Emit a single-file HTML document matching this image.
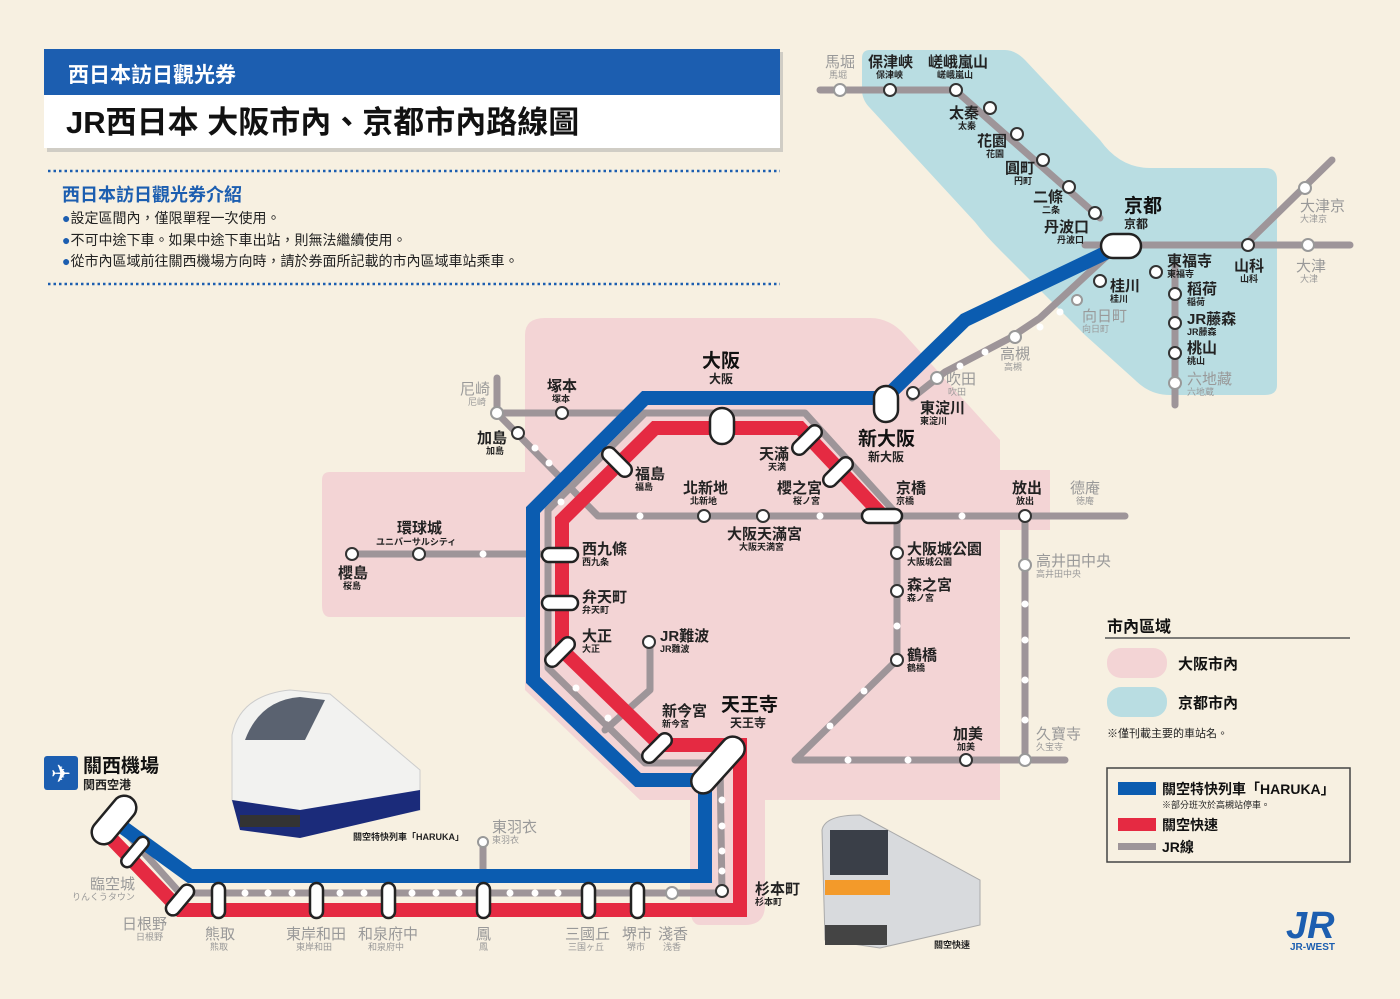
<!DOCTYPE html>
<html><head><meta charset="utf-8"><style>
html,body{margin:0;padding:0;background:#f7f0e1;}
svg{display:block;font-family:"Liberation Sans","Noto Sans CJK TC",sans-serif;}
.b{font-size:15px;fill:#222;font-weight:bold}
.s{font-size:9px;fill:#222;font-weight:bold}
.g{font-size:15px;fill:#999}
.gs{font-size:9px;fill:#999}
.bb{font-size:19px;fill:#111;font-weight:bold}
</style></head><body>
<svg width="1400" height="999" viewBox="0 0 1400 999" xmlns="http://www.w3.org/2000/svg">
<rect width="1400" height="999" fill="#f7f0e1"/>
<!-- regions -->
<path d="M545,318 L870,318 Q890,318 905,335 L1000,440 L1000,470 L1050,470 L1050,530 L1000,530 L1000,800 L765,800 L765,905 Q765,925 745,925 L700,925 Q690,925 690,905 L690,800 L640,800 L525,690 L525,617 L330,617 Q322,617 322,605 L322,480 Q322,472 330,472 L525,472 L525,335 Q525,318 545,318 Z" fill="#f3d4d5"/>
<path d="M870,50 L1005,50 Q1015,50 1025,60 L1100,140 Q1120,168 1150,168 L1265,168 Q1277,168 1277,180 L1277,385 Q1277,395 1265,395 L1170,395 Q1150,395 1135,380 L1085,335 L1060,310 L1000,250 Q985,235 975,222 L870,108 Q862,100 862,90 L862,58 Q862,50 870,50 Z" fill="#b9dde2"/>
<!-- header -->
<rect x="47" y="52" width="736" height="100" fill="#aaa" opacity="0.5"/>
<rect x="44" y="49" width="736" height="46" fill="#1c5eb0"/>
<rect x="44" y="95" width="736" height="53" fill="#fff"/>
<text x="68" y="82" font-size="21" fill="#fff" font-weight="bold">西日本訪日觀光券</text>
<text x="66" y="133" font-size="31" fill="#111" font-weight="bold">JR西日本 大阪市內、京都市內路線圖</text>
<line x1="48" y1="171" x2="780" y2="171" stroke="#1c5eb0" stroke-width="2.5" stroke-dasharray="2.5 3"/>
<line x1="48" y1="284" x2="780" y2="284" stroke="#1c5eb0" stroke-width="2.5" stroke-dasharray="2.5 3"/>
<text x="62" y="201" font-size="18" fill="#1c5eb0" font-weight="bold">西日本訪日觀光券介紹</text>
<text x="62" y="223" font-size="14" fill="#222"><tspan fill="#1c5eb0">●</tspan>設定區間內，僅限單程一次使用。</text>
<text x="62" y="245" font-size="14" fill="#222"><tspan fill="#1c5eb0">●</tspan>不可中途下車。如果中途下車出站，則無法繼續使用。</text>
<text x="62" y="266" font-size="14" fill="#222"><tspan fill="#1c5eb0">●</tspan>從市內區域前往關西機場方向時，請於券面所記載的市內區域車站乘車。</text>

<!-- gray lines -->
<g fill="none" stroke="#9e9599" stroke-width="7" stroke-linejoin="round" stroke-linecap="round">
<path d="M820,90 L955,90 L1100,218"/>
<path d="M1085,245 L1350,245"/>
<path d="M1245,245 L1332,160"/>
<path d="M1175,265 L1175,405"/>
<path d="M1108,255 L1040,318 L1010,338 L945,372 L912,398"/>
<path d="M497,378 L497,413 L805,413 L893,510 L897,516 L897,660 L795,760 L1065,760"/>
<path d="M497,413 L598,516 L1125,516"/>
<path d="M352,554 L545,554"/>
<path d="M645,413 L548,510 L548,668 L645,763 L720,763 L722,893 L180,893 L120,826"/>
<path d="M1025,516 L1025,760"/>
<path d="M650,645 L650,690 L605,730"/>
<path d="M483,842 L483,893"/>
</g>
<!-- blue & red -->
<path d="M1122,245 L965,320 L885,398 L645,398 L533,510 L533,680 L638,780 L705,780 L705,876 L190,876 L110,818" fill="none" stroke="#0b5cb0" stroke-width="14" stroke-linejoin="miter"/>
<path d="M882,515 L800,428 L655,428 L562,520 L562,650 L660,745 L740,745 L740,910 L180,910 L105,832" fill="none" stroke="#e52a42" stroke-width="14" stroke-linejoin="miter"/>

<!-- small stations -->
<g fill="#fff" stroke="#333" stroke-width="2">
<circle cx="840" cy="90" r="6" stroke="#999"/><circle cx="890" cy="90" r="6"/><circle cx="956" cy="90" r="6"/>
<circle cx="990" cy="108" r="6"/><circle cx="1017" cy="134" r="6"/><circle cx="1043" cy="160" r="6"/><circle cx="1069" cy="187" r="6"/><circle cx="1095" cy="213" r="6"/>
<circle cx="1248" cy="245" r="6"/><circle cx="1305" cy="188" r="6" stroke="#999"/><circle cx="1308" cy="245" r="6" stroke="#999"/>
<circle cx="1156" cy="272" r="6"/><circle cx="1175" cy="294" r="6"/><circle cx="1175" cy="323" r="6"/><circle cx="1175" cy="353" r="6"/><circle cx="1175" cy="383" r="6" stroke="#999"/>
<circle cx="1100" cy="281" r="6"/><circle cx="1077" cy="300" r="5" stroke="#999"/><circle cx="1015" cy="337" r="6" stroke="#999"/><circle cx="937" cy="378" r="6" stroke="#999"/><circle cx="913" cy="393" r="6"/>
<circle cx="497" cy="413" r="6" stroke="#999"/><circle cx="562" cy="413" r="6"/><circle cx="518" cy="433" r="6"/>
<circle cx="704" cy="516" r="6"/><circle cx="763" cy="516" r="6"/><circle cx="897" cy="553" r="6"/><circle cx="897" cy="591" r="6"/><circle cx="897" cy="660" r="6"/>
<circle cx="1025" cy="516" r="6"/><circle cx="1025" cy="565" r="6" stroke="#999"/><circle cx="966" cy="760" r="6"/><circle cx="1025" cy="760" r="6" stroke="#999"/>
<circle cx="352" cy="554" r="6"/><circle cx="419" cy="554" r="6"/><circle cx="649" cy="642" r="6"/>
<circle cx="483" cy="842" r="5" stroke="#999"/><circle cx="672" cy="893" r="6" stroke="#999"/><circle cx="722" cy="891" r="6"/>
</g>
<g fill="#fff">
<circle cx="535" cy="448" r="3.5"/><circle cx="549" cy="463" r="3.5"/><circle cx="640" cy="516" r="3.5"/><circle cx="820" cy="516" r="3.5"/><circle cx="962" cy="516" r="3.5"/>
<circle cx="483" cy="554" r="3.5"/><circle cx="561" cy="502" r="3.5"/><circle cx="576" cy="688" r="3.5"/><circle cx="608" cy="718" r="3.5"/>
<circle cx="897" cy="626" r="3.5"/><circle cx="864" cy="691" r="3.5"/><circle cx="830" cy="726" r="3.5"/><circle cx="848" cy="760" r="3.5"/><circle cx="908" cy="760" r="3.5"/>
<circle cx="1025" cy="604" r="3.5"/><circle cx="1025" cy="640" r="3.5"/><circle cx="1025" cy="680" r="3.5"/><circle cx="1025" cy="720" r="3.5"/>
<circle cx="960" cy="366" r="3.5"/><circle cx="985" cy="352" r="3.5"/><circle cx="1040" cy="327" r="3.5"/><circle cx="1060" cy="312" r="3.5"/>
<circle cx="722" cy="800" r="3.5"/><circle cx="722" cy="826" r="3.5"/><circle cx="722" cy="851" r="3.5"/><circle cx="722" cy="871" r="3.5"/>
<circle cx="245" cy="893" r="3.5"/><circle cx="268" cy="893" r="3.5"/><circle cx="292" cy="893" r="3.5"/><circle cx="340" cy="893" r="3.5"/><circle cx="364" cy="893" r="3.5"/>
<circle cx="412" cy="893" r="3.5"/><circle cx="436" cy="893" r="3.5"/><circle cx="459" cy="893" r="3.5"/><circle cx="510" cy="893" r="3.5"/><circle cx="535" cy="893" r="3.5"/><circle cx="558" cy="893" r="3.5"/>
</g>
<!-- capsules -->
<g fill="#fff" stroke="#222" stroke-width="2.5">
<rect x="710" y="408" width="24" height="36" rx="12"/>
<rect x="874" y="386" width="24" height="36" rx="12"/>
<rect x="1101" y="234" width="40" height="24" rx="12"/>
<rect x="862" y="509" width="40" height="14" rx="7"/>
<rect x="542" y="548" width="36" height="14" rx="7"/>
<rect x="542" y="596" width="36" height="14" rx="7"/>
<rect x="-18" y="-7" width="36" height="14" rx="7" transform="translate(617,462) rotate(45)"/>
<rect x="-18" y="-7" width="36" height="14" rx="7" transform="translate(807,440) rotate(-45)"/>
<rect x="-18" y="-7" width="36" height="14" rx="7" transform="translate(838,472) rotate(-45)"/>
<rect x="-18" y="-7" width="36" height="14" rx="7" transform="translate(560,652) rotate(-45)"/>
<rect x="-18" y="-7" width="36" height="14" rx="7" transform="translate(657,748) rotate(-45)"/>
<rect x="-34" y="-12" width="68" height="24" rx="12" transform="translate(718,765) rotate(-48)"/>
<rect x="-28" y="-12" width="56" height="24" rx="12" transform="translate(114,820) rotate(-50)"/>
<rect x="-18" y="-6" width="36" height="12" rx="6" transform="translate(135,852) rotate(-50)"/>
<rect x="-18" y="-7" width="36" height="14" rx="7" transform="translate(180,900) rotate(-50)"/>
<rect x="212" y="883" width="13" height="35" rx="6.5"/><rect x="310" y="883" width="13" height="35" rx="6.5"/><rect x="382" y="883" width="13" height="35" rx="6.5"/>
<rect x="477" y="883" width="13" height="35" rx="6.5"/><rect x="582" y="883" width="13" height="35" rx="6.5"/><rect x="631" y="883" width="13" height="35" rx="6.5"/>
</g>

<!-- labels -->
<text x="825" y="67" class="g">馬堀</text><text x="829" y="78" class="gs">馬堀</text>
<text x="868" y="67" class="b">保津峡</text><text x="876" y="78" class="s">保津峡</text>
<text x="928" y="67" class="b">嵯峨嵐山</text><text x="937" y="78" class="s">嵯峨嵐山</text>
<text x="949" y="118" class="b">太秦</text><text x="958" y="129" class="s">太秦</text>
<text x="977" y="146" class="b">花園</text><text x="986" y="157" class="s">花園</text>
<text x="1005" y="173" class="b">圓町</text><text x="1014" y="184" class="s">円町</text>
<text x="1033" y="202" class="b">二條</text><text x="1042" y="213" class="s">二条</text>
<text x="1044" y="232" class="b">丹波口</text><text x="1057" y="243" class="s">丹波口</text>
<text x="1124" y="212" class="bb">京都</text><text x="1124" y="228" font-size="12" font-weight="bold" fill="#222">京都</text>
<text x="1167" y="266" class="b">東福寺</text><text x="1167" y="277" class="s">東福寺</text>
<text x="1187" y="294" class="b">稻荷</text><text x="1187" y="305" class="s">稲荷</text>
<text x="1187" y="324" class="b">JR藤森</text><text x="1187" y="335" class="s">JR藤森</text>
<text x="1187" y="353" class="b">桃山</text><text x="1187" y="364" class="s">桃山</text>
<text x="1187" y="384" class="g">六地藏</text><text x="1187" y="395" class="gs">六地蔵</text>
<text x="1234" y="271" class="b">山科</text><text x="1240" y="282" class="s">山科</text>
<text x="1300" y="211" class="g">大津京</text><text x="1300" y="222" class="gs">大津京</text>
<text x="1296" y="271" class="g">大津</text><text x="1300" y="282" class="gs">大津</text>
<text x="1110" y="291" class="b">桂川</text><text x="1110" y="302" class="s">桂川</text>
<text x="1082" y="321" class="g">向日町</text><text x="1082" y="332" class="gs">向日町</text>
<text x="1000" y="359" class="g">高槻</text><text x="1004" y="370" class="gs">高槻</text>
<text x="946" y="384" class="g">吹田</text><text x="948" y="395" class="gs">吹田</text>
<text x="920" y="413" class="b">東淀川</text><text x="920" y="424" class="s">東淀川</text>
<text x="858" y="445" class="bb">新大阪</text><text x="868" y="461" font-size="12" font-weight="bold" fill="#222">新大阪</text>
<text x="702" y="367" class="bb">大阪</text><text x="709" y="383" font-size="12" font-weight="bold" fill="#222">大阪</text>
<text x="460" y="394" class="g">尼崎</text><text x="468" y="405" class="gs">尼崎</text>
<text x="547" y="391" class="b">塚本</text><text x="552" y="402" class="s">塚本</text>
<text x="477" y="443" class="b">加島</text><text x="486" y="454" class="s">加島</text>
<text x="759" y="459" class="b">天滿</text><text x="768" y="470" class="s">天満</text>
<text x="777" y="493" class="b">櫻之宮</text><text x="793" y="504" class="s">桜ノ宮</text>
<text x="635" y="479" class="b">福島</text><text x="635" y="490" class="s">福島</text>
<text x="683" y="493" class="b">北新地</text><text x="690" y="504" class="s">北新地</text>
<text x="896" y="493" class="b">京橋</text><text x="896" y="504" class="s">京橋</text>
<text x="1012" y="493" class="b">放出</text><text x="1016" y="504" class="s">放出</text>
<text x="1070" y="493" class="g">德庵</text><text x="1076" y="504" class="gs">徳庵</text>
<text x="727" y="539" class="b">大阪天滿宮</text><text x="739" y="550" class="s">大阪天満宮</text>
<text x="397" y="533" class="b">環球城</text><text x="376" y="545" class="s">ユニバーサルシティ</text>
<text x="338" y="578" class="b">櫻島</text><text x="343" y="589" class="s">桜島</text>
<text x="582" y="554" class="b">西九條</text><text x="582" y="565" class="s">西九条</text>
<text x="582" y="602" class="b">弁天町</text><text x="582" y="613" class="s">弁天町</text>
<text x="582" y="641" class="b">大正</text><text x="582" y="652" class="s">大正</text>
<text x="660" y="641" class="b">JR難波</text><text x="660" y="652" class="s">JR難波</text>
<text x="907" y="554" class="b">大阪城公園</text><text x="907" y="565" class="s">大阪城公園</text>
<text x="907" y="590" class="b">森之宮</text><text x="907" y="601" class="s">森ノ宮</text>
<text x="907" y="660" class="b">鶴橋</text><text x="907" y="671" class="s">鶴橋</text>
<text x="1036" y="566" class="g">高井田中央</text><text x="1036" y="577" class="gs">高井田中央</text>
<text x="662" y="716" class="b">新今宮</text><text x="662" y="727" class="s">新今宮</text>
<text x="721" y="711" class="bb">天王寺</text><text x="730" y="727" font-size="12" font-weight="bold" fill="#222">天王寺</text>
<text x="953" y="739" class="b">加美</text><text x="957" y="750" class="s">加美</text>
<text x="1036" y="739" class="g">久寶寺</text><text x="1036" y="750" class="gs">久宝寺</text>
<text x="492" y="832" class="g">東羽衣</text><text x="492" y="843" class="gs">東羽衣</text>
<text x="755" y="894" class="b">杉本町</text><text x="755" y="905" class="s">杉本町</text>
<text x="90" y="889" class="g">臨空城</text><text x="72" y="900" class="gs">りんくうタウン</text>
<text x="122" y="929" class="g">日根野</text><text x="136" y="940" class="gs">日根野</text>
<text x="205" y="939" class="g">熊取</text><text x="210" y="950" class="gs">熊取</text>
<text x="286" y="939" class="g">東岸和田</text><text x="296" y="950" class="gs">東岸和田</text>
<text x="358" y="939" class="g">和泉府中</text><text x="368" y="950" class="gs">和泉府中</text>
<text x="476" y="939" class="g">鳳</text><text x="479" y="950" class="gs">鳳</text>
<text x="565" y="939" class="g">三國丘</text><text x="568" y="950" class="gs">三国ヶ丘</text>
<text x="622" y="939" class="g">堺市</text><text x="627" y="950" class="gs">堺市</text>
<text x="658" y="939" class="g">淺香</text><text x="663" y="950" class="gs">浅香</text>
<!-- airport -->
<rect x="44" y="756" width="34" height="34" rx="3" fill="#1c5eb0"/>
<text x="61" y="782" font-size="24" fill="#fff" text-anchor="middle" font-family="DejaVu Sans">✈</text>
<text x="83" y="772" font-size="19" font-weight="bold" fill="#111">關西機場</text>
<text x="83" y="789" font-size="12" font-weight="bold" fill="#222">関西空港</text>

<!-- Haruka train -->
<g>
<path d="M232,800 L232,735 Q240,695 290,690 L330,694 L420,770 L420,810 L300,835 L240,825 Z" fill="#f2f2f0" stroke="#ccc"/>
<path d="M245,740 Q260,700 300,697 L325,700 L305,740 Z" fill="#5a6270"/>
<path d="M232,800 L300,810 L420,790 L420,810 L300,838 L240,830 Z" fill="#1b2b7a"/>
<rect x="240" y="815" width="60" height="12" fill="#333"/>
<text x="353" y="840" font-size="9" fill="#222" font-weight="bold">關空特快列車「HARUKA」</text>
</g>
<!-- Kanku rapid train -->
<g>
<path d="M822,830 Q825,815 860,815 L980,880 L980,925 L880,948 L825,940 Z" fill="#d8dadd" stroke="#aaa"/>
<rect x="830" y="830" width="58" height="45" fill="#3a3f48"/>
<rect x="825" y="880" width="65" height="15" fill="#f39a2a"/>
<rect x="825" y="925" width="62" height="20" fill="#444"/>
<text x="934" y="948" font-size="9" fill="#222" font-weight="bold">關空快速</text>
</g>

<!-- legend -->
<text x="1107" y="632" font-size="16" font-weight="bold" fill="#111">市內區域</text>
<line x1="1105" y1="638" x2="1350" y2="638" stroke="#555" stroke-width="1.5"/>
<rect x="1107" y="648" width="60" height="30" rx="14" fill="#f3d4d5"/>
<text x="1178" y="669" font-size="15" fill="#111" font-weight="bold">大阪市內</text>
<rect x="1107" y="687" width="60" height="30" rx="14" fill="#b9dde2"/>
<text x="1178" y="708" font-size="15" fill="#111" font-weight="bold">京都市內</text>
<text x="1107" y="737" font-size="11" fill="#222">※僅刊載主要的車站名。</text>
<rect x="1107" y="768" width="243" height="94" fill="none" stroke="#444" stroke-width="1.5"/>
<rect x="1118" y="782" width="38" height="13" fill="#0b5cb0"/>
<text x="1162" y="794" font-size="14" fill="#111" font-weight="bold">關空特快列車「HARUKA」</text>
<text x="1162" y="808" font-size="9" fill="#222">※部分班次於高槻站停車。</text>
<rect x="1118" y="818" width="38" height="13" fill="#e52a42"/>
<text x="1162" y="830" font-size="14" fill="#111" font-weight="bold">關空快速</text>
<rect x="1118" y="843" width="38" height="7" fill="#9e9599"/>
<text x="1162" y="852" font-size="14" fill="#111" font-weight="bold">JR線</text>
<!-- JR logo -->
<text x="1286" y="938" font-size="38" font-weight="bold" font-style="italic" fill="#1c5eb0">JR</text>
<text x="1290" y="950" font-size="10" font-weight="bold" fill="#1c5eb0">JR-WEST</text>
</svg>
</body></html>
